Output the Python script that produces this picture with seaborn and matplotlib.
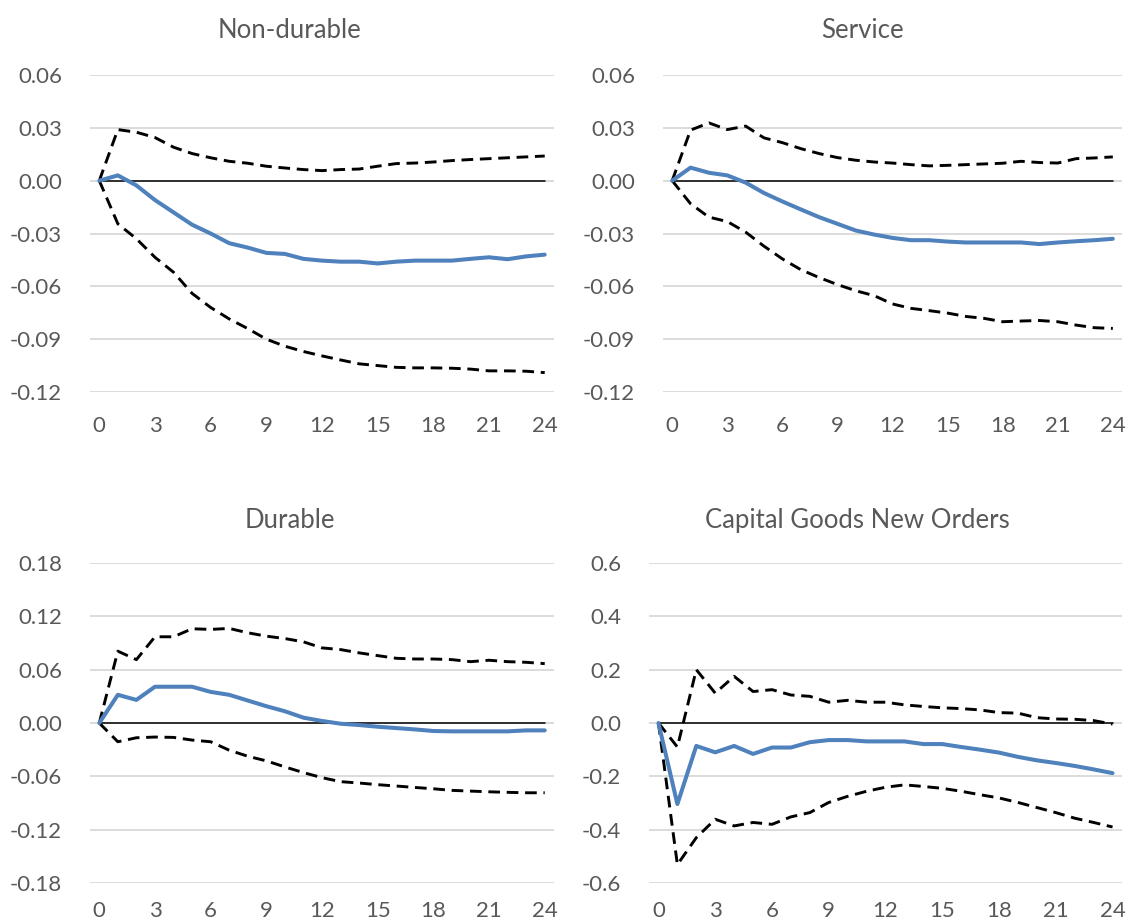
import numpy as np
import pandas as pd
import matplotlib
matplotlib.use("Agg")
import matplotlib.pyplot as plt
import seaborn as sns

# Impulse responses over a 24-month horizon: point estimate and error bands
horizon = list(range(25))

nondurable_mean = [0, 0.003, -0.0027, -0.011, -0.018, -0.025, -0.030, -0.0355, -0.038, -0.041,
                   -0.0416, -0.0444, -0.0454, -0.046, -0.046, -0.047, -0.046, -0.0454, -0.0454,
                   -0.0454, -0.0444, -0.0435, -0.0446, -0.043, -0.042]
nondurable_upper = [0, 0.029, 0.0275, 0.0245, 0.019, 0.0154, 0.013, 0.011, 0.0099, 0.0082,
                    0.0072, 0.0063, 0.0057, 0.0063, 0.0066, 0.0082, 0.0097, 0.010, 0.0106,
                    0.0114, 0.012, 0.0125, 0.013, 0.0135, 0.014]
nondurable_lower = [0, -0.0245, -0.033, -0.0435, -0.052, -0.064, -0.072, -0.0785, -0.084, -0.090,
                    -0.094, -0.097, -0.0995, -0.1018, -0.104, -0.105, -0.106, -0.1063, -0.1063,
                    -0.1065, -0.107, -0.108, -0.108, -0.1082, -0.109]

service_mean = [0, 0.0074, 0.0045, 0.003, -0.0011, -0.007, -0.0118, -0.0163, -0.0207, -0.0245,
                -0.0283, -0.0306, -0.0325, -0.0338, -0.0338, -0.0346, -0.0351, -0.0351, -0.0351,
                -0.0351, -0.036, -0.0351, -0.0344, -0.0338, -0.033]
service_upper = [0, 0.0287, 0.0328, 0.029, 0.031, 0.0243, 0.0216, 0.0182, 0.0154, 0.0131,
                 0.0116, 0.0106, 0.010, 0.0091, 0.0084, 0.0087, 0.0091, 0.0095, 0.0099,
                 0.011, 0.0103, 0.010, 0.0125, 0.0129, 0.0135]
service_lower = [0, -0.0131, -0.0207, -0.0232, -0.0292, -0.0372, -0.0444, -0.0505, -0.055, -0.059,
                 -0.0625, -0.0653, -0.070, -0.0725, -0.0738, -0.0752, -0.0771, -0.0782, -0.0801,
                 -0.0797, -0.0794, -0.0801, -0.082, -0.0835, -0.0839]

durable_mean = [0, 0.0317, 0.026, 0.0408, 0.0408, 0.0408, 0.035, 0.0317, 0.0253, 0.0189,
                0.0132, 0.006, 0.0023, -0.0008, -0.0023, -0.0042, -0.0057, -0.0072, -0.009,
                -0.0094, -0.0094, -0.0094, -0.0094, -0.0083, -0.0083]
durable_upper = [0, 0.0808, 0.0713, 0.097, 0.097, 0.106, 0.1053, 0.1064, 0.1015, 0.0977,
                 0.095, 0.0913, 0.0845, 0.0826, 0.0789, 0.0758, 0.0728, 0.072, 0.072,
                 0.0713, 0.069, 0.0706, 0.069, 0.0683, 0.0668]
durable_lower = [0, -0.0211, -0.0166, -0.0158, -0.0162, -0.0192, -0.0211, -0.0306, -0.0374, -0.0426,
                 -0.0494, -0.0558, -0.0615, -0.066, -0.0675, -0.0694, -0.0709, -0.0725, -0.074,
                 -0.0758, -0.0766, -0.0774, -0.078, -0.0785, -0.0785]

capital_mean = [0, -0.304, -0.086, -0.11, -0.086, -0.116, -0.092, -0.092, -0.072, -0.064,
                -0.064, -0.069, -0.069, -0.069, -0.079, -0.079, -0.09, -0.10, -0.111,
                -0.127, -0.14, -0.15, -0.161, -0.174, -0.188]
capital_upper = [0, -0.09, 0.20, 0.112, 0.175, 0.118, 0.125, 0.105, 0.10, 0.078,
                 0.085, 0.078, 0.078, 0.068, 0.062, 0.057, 0.054, 0.049, 0.039,
                 0.037, 0.02, 0.015, 0.014, 0.009, -0.004]
capital_lower = [0, -0.531, -0.43, -0.361, -0.386, -0.373, -0.38, -0.352, -0.336, -0.298,
                 -0.275, -0.256, -0.241, -0.232, -0.238, -0.245, -0.256, -0.269, -0.281,
                 -0.298, -0.317, -0.336, -0.357, -0.373, -0.39]

titles = ["Non-durable", "Service", "Durable", "Capital Goods New Orders"]

small_ticks = [0.06, 0.03, 0.00, -0.03, -0.06, -0.09, -0.12]
small_labels = ["0.06", "0.03", "0.00", "-0.03", "-0.06", "-0.09", "-0.12"]
durable_ticks = [0.18, 0.12, 0.06, 0.00, -0.06, -0.12, -0.18]
durable_labels = ["0.18", "0.12", "0.06", "0.00", "-0.06", "-0.12", "-0.18"]
capital_ticks = [0.6, 0.4, 0.2, 0.0, -0.2, -0.4, -0.6]
capital_labels = ["0.6", "0.4", "0.2", "0.0", "-0.2", "-0.4", "-0.6"]
x_ticks = [0, 3, 6, 9, 12, 15, 18, 21, 24]

sns.set_style("white")
plt.rcParams["font.family"] = ["Lato", "DejaVu Sans"]

TEXT = "#595959"
GRID = "#d9d9d9"
BLUE = "#4f81bd"

W, H = 1131, 924
fig = plt.figure(figsize=(W / 100, H / 100), dpi=100)

def px_axes(left, top, right, bottom):
    return fig.add_axes([left / W, 1 - bottom / H, (right - left) / W, (bottom - top) / H])

# (axes, title, title centre x/y in pixels, series, ticks, labels, x-label pad)
panels = [
    (px_axes(90, 75, 554, 392), titles[0], (289, 28), nondurable_mean, nondurable_upper,
     nondurable_lower, small_ticks, small_labels, 17),
    (px_axes(663, 75, 1122, 392), titles[1], (862, 28), service_mean, service_upper,
     service_lower, small_ticks, small_labels, 17),
    (px_axes(90, 563, 554, 883), titles[2], (290, 518), durable_mean, durable_upper,
     durable_lower, durable_ticks, durable_labels, 13),
    (px_axes(649, 563, 1122, 883), titles[3], (857, 518), capital_mean, capital_upper,
     capital_lower, capital_ticks, capital_labels, 13),
]

for ax, title, (tx, ty), mean, upper, lower, yt, yl, xpad in panels:
    df = pd.DataFrame({"h": horizon, "mean": mean, "upper": upper, "lower": lower})
    for t in yt:
        ax.axhline(t, color=GRID, lw=1.3, zorder=0)
    ax.plot([horizon[0], horizon[-1]], [0, 0], color="black", lw=1.1, zorder=1)
    for col in ["upper", "lower"]:
        sns.lineplot(data=df, x="h", y=col, ax=ax, color="black", lw=2.1,
                     linestyle=(0, (4.0, 2.3)), zorder=2)
    sns.lineplot(data=df, x="h", y="mean", ax=ax, color=BLUE, lw=2.9, zorder=3)

    ax.set_xlim(-0.5, 24.5)
    ax.set_ylim(min(yt), max(yt))
    ax.set_yticks(yt)
    ax.set_yticklabels(yl)
    ax.set_xticks(x_ticks)
    ax.set_xticklabels([str(v) for v in x_ticks])
    ax.tick_params(axis="both", length=0, labelsize=16, colors=TEXT)
    ax.tick_params(axis="y", pad=20)
    ax.tick_params(axis="x", pad=xpad)
    ax.set_xlabel("")
    ax.set_ylabel("")
    for s in ax.spines.values():
        s.set_visible(False)
    fig.text(tx / W, 1 - ty / H, title, fontsize=18.5, color=TEXT, ha="center",
             va="center_baseline")

fig.savefig("out.png", dpi=100)
